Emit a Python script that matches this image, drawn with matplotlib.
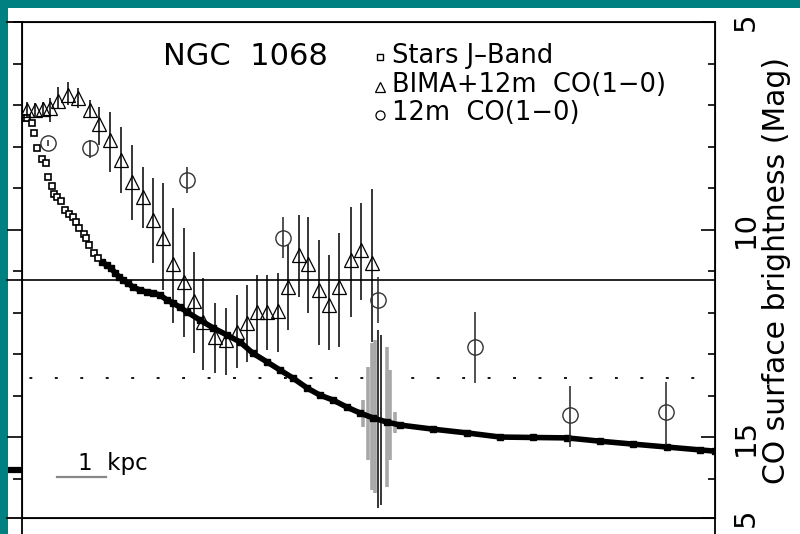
import numpy as np
import matplotlib.pyplot as plt
from matplotlib.patches import Rectangle
from matplotlib.ticker import MultipleLocator

# radius in kpc, surface brightness in mag (brighter = up)
star_r = np.array([0.06, 0.10, 0.20, 0.24, 0.31, 0.41, 0.49, 0.53, 0.61, 0.65,
                   0.71, 0.80, 0.88, 0.96, 1.04, 1.10, 1.16, 1.27, 1.31, 1.37,
                   1.47, 1.55, 1.63, 1.73, 1.82, 1.90, 1.98, 2.06, 2.16, 2.27,
                   2.41, 2.55, 2.67, 2.82, 2.96, 3.08, 3.22, 3.37, 3.63, 3.90,
                   4.18, 4.45, 4.71, 5.00, 5.27, 5.53, 5.82, 6.08, 6.35, 6.63,
                   6.90, 7.16, 7.45, 7.71, 8.39, 9.08, 9.76, 10.43, 11.12, 11.80,
                   12.47, 13.16, 13.84, 14.14])
star_mag = np.array([7.31, 7.31, 7.43, 7.67, 8.04, 8.30, 8.40, 8.73, 8.95, 9.14,
                     9.22, 9.31, 9.53, 9.63, 9.70, 9.82, 9.96, 10.11, 10.20, 10.37,
                     10.57, 10.69, 10.78, 10.86, 10.93, 11.05, 11.14, 11.22, 11.29, 11.39,
                     11.46, 11.51, 11.53, 11.58, 11.70, 11.77, 11.87, 11.99, 12.18, 12.37,
                     12.54, 12.71, 12.98, 13.19, 13.39, 13.58, 13.82, 13.99, 14.11, 14.28,
                     14.42, 14.54, 14.64, 14.71, 14.81, 14.90, 15.00, 15.01, 15.02, 15.10,
                     15.17, 15.24, 15.31, 15.34])

# BIMA + 12m CO(1-0)
bima_r = np.array([0.10, 0.27, 0.43, 0.57, 0.73, 0.94, 1.14, 1.39, 1.57, 1.80,
                   2.02, 2.24, 2.47, 2.67, 2.88, 3.08, 3.31, 3.51, 3.69, 3.94,
                   4.16, 4.39, 4.59, 4.80, 5.00, 5.22, 5.43, 5.65, 5.84, 6.06,
                   6.27, 6.47, 6.71, 6.92, 7.14])
bima_mag = np.array([7.12, 7.12, 7.10, 7.07, 6.90, 6.76, 6.83, 7.12, 7.46, 7.84,
                     8.33, 8.86, 9.22, 9.77, 10.20, 10.83, 11.27, 11.72, 12.23, 12.59,
                     12.66, 12.47, 12.25, 11.99, 11.99, 11.96, 11.39, 10.61, 10.83, 11.46,
                     11.82, 11.39, 10.73, 10.49, 10.81])
bima_lo = np.array([6.93, 6.95, 6.93, 6.83, 6.57, 6.45, 6.59, 6.88, 7.05, 7.17,
                    7.53, 7.96, 8.49, 8.76, 8.88, 9.48, 9.96, 10.54, 11.17, 11.77,
                    11.89, 11.58, 11.34, 11.10, 11.10, 11.05, 10.37, 9.65, 9.70, 10.25,
                    10.61, 10.08, 9.46, 9.36, 9.02])
bima_hi = np.array([7.31, 7.31, 7.29, 7.41, 7.07, 7.00, 7.07, 7.31, 7.96, 8.61,
                    9.12, 9.77, 9.96, 10.81, 11.46, 12.25, 12.59, 12.98, 13.39, 13.46,
                    13.51, 13.34, 13.19, 13.07, 12.90, 12.95, 12.42, 11.63, 12.01, 12.78,
                    12.90, 12.83, 12.11, 11.70, 12.71])

# 12m CO(1-0) only
sd_r = np.array([0.53, 1.39, 3.37, 5.33, 7.27, 9.24, 11.18, 13.14])
sd_mag = np.array([7.92, 8.04, 8.81, 10.20, 11.70, 12.83, 14.47, 14.40])
sd_lo = np.array([7.85, 7.84, 8.49, 9.70, 11.14, 11.99, 13.77, 13.67])
sd_hi = np.array([7.99, 8.28, 9.12, 10.69, 12.25, 13.70, 15.24, 15.19])

# stellar error bars around the edge of the BIMA field
edge_r = np.array([6.96, 7.06, 7.14, 7.20, 7.45, 7.51, 7.61])
edge_lo = np.array([14.11, 13.31, 12.73, 12.66, 12.83, 13.39, 14.40])
edge_hi = np.array([14.76, 15.55, 16.28, 16.35, 16.20, 15.55, 14.90])
edge_dark_r = np.array([7.27, 7.33])
edge_dark_lo = np.array([12.42, 12.54])
edge_dark_hi = np.array([16.71, 16.64])

# piece of the neighbouring panel's profile
neigh_r = [-0.29, 0.0]
neigh_mag = [15.80, 15.80]

sensitivity_mag = 11.22
limit_mag = 13.58
r_max = 14.14
mag_faint, mag_bright = 16.95, 5.0

plt.rcParams['font.family'] = 'DejaVu Sans'

fig = plt.figure(figsize=(8, 5.34), dpi=100)
fig.patch.set_facecolor('#008080')
fig.add_artist(Rectangle((8 / 800, 0), 1, 1 - 8 / 534, transform=fig.transFigure,
                         facecolor='white', edgecolor='none', zorder=-10))

ax = fig.add_axes([22 / 800, 16 / 534, 693 / 800, 496 / 534])
ax.set_xlim(0, r_max)
ax.set_ylim(mag_faint, mag_bright)
ax.set_xticks([])
ax.set_yticks([10, 15])
ax.yaxis.set_minor_locator(MultipleLocator(1))
ax.tick_params(axis='y', which='both', direction='out', left=True, right=False,
               labelleft=False, width=1.2)
ax.tick_params(axis='y', which='major', length=11)
ax.tick_params(axis='y', which='minor', length=6.5)
for s in ax.spines.values():
    s.set_linewidth(1.3)

ax2 = ax.twinx()
ax2.set_ylim(mag_faint, mag_bright)
ax2.set_yticks([5, 10, 15, mag_faint])
ax2.set_yticklabels(['5', '10', '15', '5'])
ax2.yaxis.set_minor_locator(MultipleLocator(1))
ax2.tick_params(axis='y', which='both', direction='in', width=1.2, pad=12,
                labelsize=21, labelrotation=90)
ax2.tick_params(axis='y', which='major', length=10)
ax2.tick_params(axis='y', which='minor', length=5)
for lab in ax2.get_yticklabels():
    lab.set_va('center')
ax2.set_ylabel('CO surface brightness (Mag)', fontsize=21.5, rotation=90, labelpad=2)

# frame pieces running on into the neighbouring panels
kw = dict(color='k', lw=1.3, clip_on=False)
ax.axhline(mag_bright, xmin=-0.021, xmax=0, **kw)
ax.axhline(mag_faint, xmin=-0.021, xmax=0, **kw)
ax.axvline(0, ymin=-0.05, ymax=0, **kw)
ax.axvline(r_max, ymin=-0.05, ymax=0, **kw)
ax.plot(neigh_r, neigh_mag, color='k', lw=4.5, solid_capstyle='butt', clip_on=False)

ax.axhline(sensitivity_mag, xmin=-0.021, xmax=1, color='k', lw=1.2, clip_on=False)
ax.axhline(limit_mag, xmin=0, xmax=0.975, color='k', lw=1.3, ls=(10, (1.6, 12.5)))

# stars: separate squares in the centre, a solid band further out
ax.vlines(edge_r, edge_lo, edge_hi, color='#a8a8a8', lw=2.6)
dense = star_r > 1.6
ax.plot(star_r[dense], star_mag[dense], 's-', color='k', lw=4.0, ms=4.5,
        solid_capstyle='butt')
ax.plot(star_r[~dense], star_mag[~dense], 's', ms=4, mfc='white', mec='k',
        mew=1.2, ls='none')
ax.vlines(edge_dark_r, edge_dark_lo, edge_dark_hi, color='k', lw=1.1)

# CO profiles
ax.vlines(bima_r, bima_lo, bima_hi, color='k', lw=1.1)
ax.plot(bima_r, bima_mag, '^', ms=9.5, mfc='none', mec='k', mew=0.9, ls='none')
ax.vlines(sd_r, sd_lo, sd_hi, color='#222222', lw=1.1)
ax.plot(sd_r, sd_mag, 'o', ms=11, mfc='none', mec='#333333', mew=1.0, ls='none')

# scale bar
ax.plot([0.71, 1.71], [15.96, 15.96], color='#888888', lw=1.6)
ax.text(1.14, 15.80, '1  kpc', fontsize=16.5, va='baseline', ha='left')

ax.text(2.88, 6.04, 'NGC  1068', fontsize=22, va='baseline', ha='left')

# legend
leg_x, txt_x = 7.31, 7.55
ax.plot(leg_x, 5.85, 's', ms=5, mfc='none', mec='k', mew=1.0)
ax.plot(leg_x, 6.57, '^', ms=6.5, mfc='none', mec='k', mew=0.9)
ax.plot(leg_x, 7.25, 'o', ms=6.5, mfc='none', mec='k', mew=0.9)
ax.text(txt_x, 5.99, 'Stars J\u2013Band', fontsize=18.5, va='baseline')
ax.text(txt_x, 6.69, 'BIMA+12m  CO(1\u22120)', fontsize=18.5, va='baseline')
ax.text(txt_x, 7.36, '12m  CO(1\u22120)', fontsize=18.5, va='baseline')

fig.savefig('out.png', dpi=100, facecolor=fig.get_facecolor())
